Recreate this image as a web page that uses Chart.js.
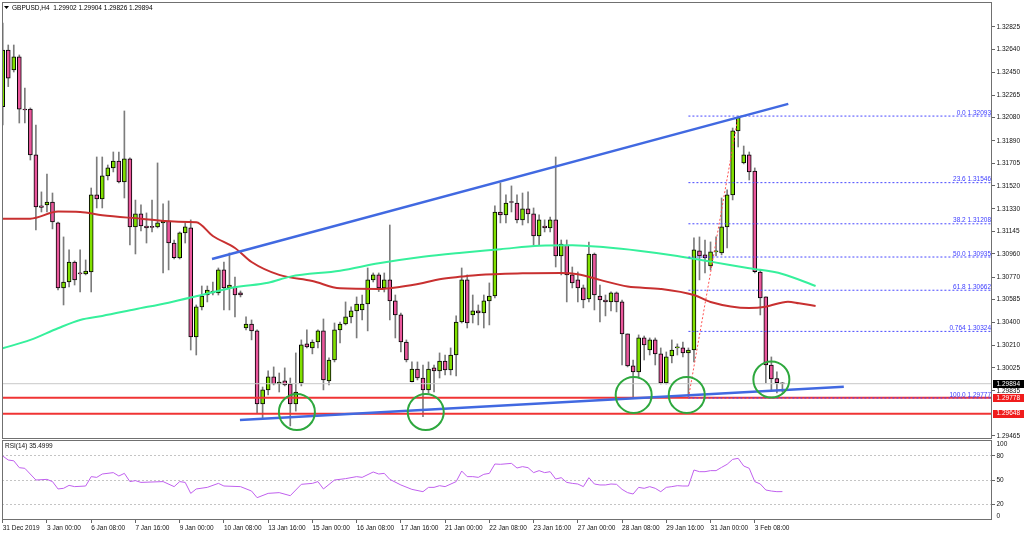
<!DOCTYPE html>
<html>
<head>
<meta charset="utf-8">
<script src="https://cdn.jsdelivr.net/npm/chart.js@4.4.1/dist/chart.umd.min.js"></script>
<style>
  html, body { margin: 0; padding: 0; background: #fff; width: 1024px; height: 535px; overflow: hidden; }
  canvas { position: absolute; left: 0; }
  #main { top: 0; }
  #rsi { top: 440px; }
</style>
</head>
<body>
<canvas id="main" width="1024" height="440"></canvas>
<canvas id="rsi" width="1024" height="95"></canvas>
<script>
// GBPUSD H4 candles, one per bar (index 0 = first visible bar)
const opens = [1.32170,1.32636,1.32472,1.32579,1.32151,1.32151,1.31774,1.31355,1.31363,1.31387,
  1.31215,1.30681,1.30730,1.30894,1.30804,1.30796,1.30812,1.31445,1.31412,1.31601,
  1.31667,1.31724,1.31552,1.31741,1.31182,1.31289,1.31190,1.31182,1.31182,1.31215,
  1.31231,1.31050,1.30927,1.31133,1.31174,1.30278,1.30525,1.30623,1.30640,1.30640,
  1.30829,1.30681,1.30689,1.30640,1.30352,1.30385,1.30328,1.29728,1.29843,1.29950,
  1.29892,1.29917,1.29892,1.29728,1.29900,1.30221,1.30188,1.30237,1.30328,1.29917,
  1.30089,1.30336,1.30385,1.30443,1.30492,1.30500,1.30549,1.30747,1.30788,1.30681,
  1.30747,1.30574,1.30459,1.30237,1.29911,1.30015,1.29941,1.29843,1.30024,1.29999,
  1.30081,1.30007,1.30130,1.30401,1.30747,1.30459,1.30492,1.30475,1.30574,1.30615,
  1.31305,1.31281,1.31387,1.31379,1.31240,1.31330,1.31289,1.31108,1.31190,1.31174,
  1.31240,1.30944,1.31034,1.30788,1.30747,1.30681,1.30590,1.30960,1.30615,1.30582,
  1.30566,1.30640,1.30566,1.30303,1.30040,1.29991,1.30270,1.30171,1.30254,1.30139,
  1.29900,1.30122,1.30188,1.30188,1.30147,1.30171,1.30985,1.30952,1.30862,1.30977,
  1.30968,1.31182,1.31445,1.31971,1.31708,1.31774,1.31642,1.30812,1.30607,1.30048,
  1.29936,1.29902];
const highs = [1.32858,1.32677,1.32677,1.32595,1.32324,1.32160,1.32020,1.31470,1.31617,1.31461,
  1.31223,1.31100,1.30993,1.30903,1.30993,1.30911,1.31502,1.31757,1.31757,1.31691,
  1.31798,1.31798,1.32135,1.31749,1.31403,1.31363,1.31297,1.31403,1.31708,1.31371,
  1.31396,1.31075,1.31141,1.31215,1.31240,1.30541,1.30697,1.30697,1.30730,1.30845,
  1.30894,1.30968,1.30771,1.30656,1.30443,1.30418,1.30336,1.29867,1.29999,1.30032,
  1.29982,1.30024,1.29941,1.30147,1.30254,1.30336,1.30254,1.30336,1.30426,1.30106,
  1.30393,1.30401,1.30566,1.30525,1.30607,1.30623,1.30845,1.30804,1.30804,1.30804,
  1.31198,1.30623,1.30475,1.30254,1.30073,1.30073,1.30048,1.30073,1.30048,1.30147,
  1.30130,1.30188,1.30451,1.30845,1.30788,1.30623,1.30541,1.30623,1.30722,1.31355,
  1.31544,1.31445,1.31519,1.31445,1.31461,1.31470,1.31338,1.31281,1.31240,1.31264,
  1.31757,1.31075,1.31075,1.30853,1.30812,1.30705,1.31058,1.30968,1.30705,1.30623,
  1.30648,1.30648,1.30582,1.30303,1.30089,1.30295,1.30286,1.30270,1.30270,1.30188,
  1.30155,1.30254,1.30221,1.30237,1.30188,1.31092,1.31100,1.31075,1.31059,1.31100,
  1.31420,1.31486,1.31995,1.32093,1.31847,1.31798,1.31667,1.30829,1.30607,1.30114,
  1.29991,1.29904];
const lows = [1.32020,1.32335,1.32455,1.32036,1.32036,1.31732,1.31157,1.31305,1.31305,1.31166,
  1.30664,1.30541,1.30689,1.30705,1.30648,1.30788,1.30648,1.31338,1.31338,1.31568,
  1.31634,1.31544,1.31420,1.31034,1.30960,1.31149,1.31050,1.31141,1.31174,1.30804,
  1.30829,1.30919,1.30919,1.31050,1.30171,1.30130,1.30500,1.30566,1.30623,1.30623,
  1.30500,1.30500,1.30443,1.30607,1.30336,1.30254,1.29654,1.29613,1.29802,1.29884,
  1.29826,1.29876,1.29547,1.29669,1.29876,1.30188,1.30139,1.30188,1.29843,1.29884,
  1.30073,1.30229,1.30377,1.30393,1.30270,1.30418,1.30328,1.30730,1.30651,1.30648,
  1.30418,1.30270,1.30155,1.30073,1.29908,1.29925,1.29623,1.29818,1.29826,1.29941,
  1.29966,1.29966,1.29958,1.30393,1.30352,1.30393,1.30377,1.30352,1.30377,1.30599,
  1.31215,1.31215,1.31305,1.31215,1.31198,1.31215,1.31034,1.31034,1.31141,1.31141,
  1.30853,1.30788,1.30566,1.30681,1.30566,1.30517,1.30566,1.30500,1.30401,1.30451,
  1.30492,1.30484,1.30048,1.30032,1.29785,1.29941,1.30089,1.30130,1.30048,1.29892,
  1.29892,1.30065,1.30130,1.30114,1.29777,1.30073,1.30747,1.30804,1.30829,1.30944,
  1.30952,1.31009,1.31404,1.31839,1.31700,1.31568,1.30804,1.30459,1.29900,1.29843,
  1.29818,1.29826];
const closes = [1.32636,1.32404,1.32579,1.32149,1.32143,1.31774,1.31346,1.31342,1.31387,1.31223,
  1.30681,1.30730,1.30894,1.30747,1.30796,1.30820,1.31445,1.31412,1.31601,1.31667,
  1.31724,1.31552,1.31741,1.31182,1.31289,1.31190,1.31174,1.31178,1.31215,1.31231,
  1.31050,1.30930,1.31133,1.31182,1.30278,1.30525,1.30615,1.30664,1.30656,1.30829,
  1.30681,1.30705,1.30623,1.30623,1.30385,1.30328,1.29728,1.29843,1.29950,1.29892,
  1.29908,1.29884,1.29728,1.29826,1.30213,1.30196,1.30237,1.30328,1.29925,1.30089,
  1.30336,1.30385,1.30443,1.30492,1.30549,1.30549,1.30747,1.30788,1.30681,1.30747,
  1.30574,1.30459,1.30237,1.30089,1.30015,1.29941,1.29843,1.30015,1.29999,1.30081,
  1.30007,1.30130,1.30401,1.30747,1.30393,1.30492,1.30475,1.30574,1.30615,1.31305,
  1.31281,1.31379,1.31383,1.31240,1.31330,1.31289,1.31108,1.31240,1.31174,1.31240,
  1.30944,1.31042,1.30788,1.30722,1.30681,1.30582,1.30960,1.30623,1.30582,1.30566,
  1.30640,1.30566,1.30303,1.30040,1.29991,1.30270,1.30213,1.30254,1.30139,1.29900,
  1.30114,1.30171,1.30192,1.30147,1.30171,1.30993,1.30944,1.30927,1.30977,1.30981,
  1.31182,1.31445,1.31971,1.32080,1.31774,1.31634,1.30815,1.30599,1.30048,1.29933,
  1.29902,1.29894];

// moving averages, read at these bar indices (shifted forward past the last bar)
const ma100At = [0,5,10,14,18,25,31,35,38,42,45,50,56,61,68,72,76,79,83,86,94,101,104,108,113,119,125,128,135,138,142,144,147];
const ma100 = [1.31250,1.31250,1.31308,1.31305,1.31278,1.31250,1.31226,1.31221,1.31108,1.31009,1.30894,1.30788,1.30738,
  1.30678,1.30673,1.30691,1.30722,1.30752,1.30774,1.30788,1.30801,1.30804,1.30793,1.30747,1.30692,1.30673,
  1.30623,1.30566,1.30516,1.30527,1.30568,1.30555,1.30533];
const ma200At = [0,5,10,14,18,24,30,36,42,48,52,61,68,76,83,90,97,103,109,115,122,128,135,141,147];
const ma200 = [1.30185,1.30254,1.30350,1.30418,1.30451,1.30506,1.30560,1.30623,1.30686,1.30724,1.30774,1.30823,
  1.30884,1.30938,1.30971,1.30999,1.31028,1.31032,1.31015,1.30987,1.30944,1.30897,1.30843,1.30796,1.30697];

// RSI(14)
const rsiAt = [0,1,2,3,4,6,8,9,10,11,12,13,15,16,17,18,20,21,22,23,24,25,29,31,32,33,34,35,37,39,40,43,45,46,48,50,
  52,54,56,57,58,60,62,64,65,67,68,69,70,72,74,76,77,78,79,80,82,83,84,85,86,87,88,89,90,92,93,94,95,96,97,98,99,
  100,101,102,103,104,105,106,107,108,109,110,111,112,113,114,115,116,117,118,119,120,121,122,123,124,125,126,127,
  128,129,130,131,132,133,134,135,136,137,138,139,140,141];
const rsiVal = [80,75,74,65.4,64.6,50,50.8,48,38.8,39.6,43.3,41.7,42.5,54.2,53.3,57.5,59.2,55,58.3,48,49.2,47,48,41.7,
  48,47,33.3,38.8,40.8,45.8,42.5,41.7,36.2,27.9,33.3,34.2,30.4,44.6,45.8,48,38.8,50,51.7,54.2,53.3,60,57.5,58.3,50.8,
  43.8,38.3,35.4,40.8,40.8,42.9,41.7,48,61.2,54.2,54.2,53.3,57.1,58.3,70,69.6,70.8,65,66.7,65.4,59.2,61.7,59.2,60.4,
  51.2,52.9,47,45.8,45,41.7,52.9,45,43.8,43.8,45,44.6,38.3,34.2,32.5,40.8,39.6,41.7,39.6,35.4,40.8,41.7,42.9,42.5,42.5,
  62.5,60.4,60.4,61.7,61.7,65.8,69.6,75.8,77.1,67.5,64.6,48,45,37.5,36.2,35.4,35.5];
const rsiLevels = [100, 80, 50, 20, 0];

// axis labels
const priceTicks = [1.32825,1.32640,1.32450,1.32265,1.32080,1.31890,1.31705,1.31520,1.31330,1.31145,1.30960,
  1.30770,1.30585,1.30400,1.30210,1.30025,1.29835,1.29465];
const dateAt = [0,8,16,24,32,40,48,56,64,72,80,88,96,104,112,120,128,136];
const dateLabels = ['31 Dec 2019','3 Jan 00:00','6 Jan 08:00','7 Jan 16:00','9 Jan 00:00','10 Jan 08:00',
  '13 Jan 16:00','15 Jan 00:00','16 Jan 08:00','17 Jan 16:00','21 Jan 00:00','22 Jan 08:00','23 Jan 16:00',
  '27 Jan 00:00','28 Jan 08:00','29 Jan 16:00','31 Jan 00:00','3 Feb 08:00'];

// drawings on the price chart
const fibLevels = ['0.0','23.6','38.2','50.0','61.8','0.764','100.0'];
const fibPrices = [1.32093,1.31546,1.31208,1.30935,1.30662,1.30324,1.29777];
const fibFrom = 124;
const swingX = [124, 133];
const swingY = [1.29777, 1.32093];
const upperLineX = [37.85, 142.06];
const upperLineY = [1.30919, 1.32193];
const lowerLineX = [42.9, 152.1];
const lowerLineY = [1.29596, 1.29870];
const redLevels = [1.29778, 1.29648];
const lastPrice = 1.29894;
const circleX = [53.2, 76.5, 114.1, 123.7, 139.0];
const circleY = [1.29662, 1.29662, 1.29802, 1.29802, 1.29929];
const header = 'GBPUSD,H4  1.29902 1.29904 1.29826 1.29894';

const xMin = -0.13, xMax = 178.9;
const yMin = 1.29448, yMax = 1.33022;
const FONT = "'Liberation Sans', Arial, sans-serif";
const BULL = '#80e000', BEAR = '#ea579c';
const BLUE = '#4169e1', RED = '#f03434';

const pts = (xs, ys) => xs.map((x, k) => ({x: x, y: ys[k]}));
const flat = (y, from) => [{x: from, y: y}, {x: xMax, y: y}];

function lineSet(data, color, width, order, extra) {
  return Object.assign({
    type: 'line', data: data, borderColor: color, borderWidth: width,
    pointRadius: 0, fill: false, order: order
  }, extra || {});
}

const datasets = [
  {
    type: 'bar', order: 20, grouped: false, barThickness: 1,
    data: highs.map((h, i) => ({x: i, y: [lows[i], h]})),
    backgroundColor: '#7c7c7c'
  },
  {
    type: 'bar', order: 10, grouped: false, barThickness: 4, minBarLength: 1,
    data: opens.map((o, i) => ({x: i, y: [o, closes[i]]})),
    backgroundColor: opens.map((o, i) => closes[i] > o ? BULL : BEAR),
    borderColor: '#000', borderWidth: 1, borderSkipped: false
  },
  lineSet(flat(lastPrice, xMin), '#c8c8c8', 1, 9),
  lineSet(flat(redLevels[0], xMin), RED, 2, 8),
  lineSet(flat(redLevels[1], xMin), RED, 2, 8),
  lineSet(pts(ma200At, ma200), '#36f09c', 2, 6, {cubicInterpolationMode: 'monotone'}),
  lineSet(pts(ma100At, ma100), '#c83030', 2, 6, {cubicInterpolationMode: 'monotone'}),
  lineSet(pts(swingX, swingY), '#ff5050', 1, 5, {borderDash: [2, 2]}),
  lineSet(pts(upperLineX, upperLineY), BLUE, 2.5, 3),
  lineSet(pts(lowerLineX, lowerLineY), BLUE, 2.5, 3),
  lineSet(pts(circleX, circleY), '#2ea83e', 0, 1, {
    showLine: false, pointRadius: 18, pointBorderWidth: 2,
    pointBorderColor: '#2ea83e', pointBackgroundColor: 'rgba(0,0,0,0)'
  })
];
fibPrices.forEach(p => datasets.push(lineSet(flat(p, fibFrom), '#4848ff', 1, 4, {borderDash: [2, 2]})));

const mainDeco = {
  id: 'mainDeco',
  afterDraw(chart) {
    const ctx = chart.ctx, ca = chart.chartArea, ys = chart.scales.y;
    ctx.save();
    ctx.strokeStyle = '#707070';
    ctx.lineWidth = 1;
    ctx.strokeRect(ca.left + 0.5, ca.top - 0.5, ca.right - ca.left - 1, ca.bottom - ca.top + 1);

    // symbol line
    ctx.fillStyle = '#000';
    ctx.beginPath();
    ctx.moveTo(ca.left + 2, ca.top + 3);
    ctx.lineTo(ca.left + 7, ca.top + 3);
    ctx.lineTo(ca.left + 4.5, ca.top + 6);
    ctx.closePath();
    ctx.fill();
    ctx.font = '6.5px ' + FONT;
    ctx.textBaseline = 'middle';
    ctx.textAlign = 'left';
    ctx.fillText(header, ca.left + 10, ca.top + 5);

    // fibonacci captions
    ctx.fillStyle = '#3c3cff';
    ctx.textAlign = 'right';
    ctx.textBaseline = 'bottom';
    fibPrices.forEach((p, k) => {
      ctx.fillText(fibLevels[k] + ' ' + p.toFixed(5), ca.right - 1, ys.getPixelForValue(p));
    });

    // price tags on the axis
    const tags = [lastPrice, redLevels[0], redLevels[1]];
    const tagColors = ['#000', '#f01c1c', '#f01c1c'];
    ctx.textAlign = 'left';
    ctx.textBaseline = 'middle';
    tags.forEach((p, k) => {
      const y = ys.getPixelForValue(p);
      ctx.fillStyle = tagColors[k];
      ctx.fillRect(ca.right + 1, Math.round(y) - 4, chart.width - ca.right - 1, 8);
      ctx.fillStyle = '#fff';
      ctx.fillText(p.toFixed(5), ca.right + 4.5, y);
    });
    ctx.restore();
  }
};

new Chart(document.getElementById('main'), {
  type: 'bar',
  data: {datasets: datasets},
  options: {
    responsive: false, animation: false, events: [],
    layout: {autoPadding: false, padding: {left: 2, top: 3, right: 0, bottom: 2}},
    plugins: {legend: {display: false}, tooltip: {enabled: false}},
    scales: {
      x: {type: 'linear', min: xMin, max: xMax, offset: false, display: false},
      y: {
        position: 'right', min: yMin, max: yMax,
        afterBuildTicks: s => { s.ticks = priceTicks.map(v => ({value: v})); },
        afterFit: s => { s.width = 32; s.paddingTop = 0; s.paddingBottom = 0; },
        ticks: {autoSkip: false, padding: 1.5, color: '#111', font: {family: FONT, size: 6.5},
          callback: v => v.toFixed(5)},
        grid: {drawOnChartArea: false, tickLength: 3, color: '#666'},
        border: {display: false}
      }
    }
  },
  plugins: [mainDeco]
});

const rsiDeco = {
  id: 'rsiDeco',
  afterDraw(chart) {
    const ctx = chart.ctx, ca = chart.chartArea, ys = chart.scales.y;
    ctx.save();
    ctx.strokeStyle = '#707070';
    ctx.lineWidth = 1;
    ctx.strokeRect(ca.left + 0.5, ca.top + 0.5, ca.right - ca.left - 1, ca.bottom - ca.top - 1);
    ctx.fillStyle = '#111';
    ctx.font = '6.5px ' + FONT;
    ctx.textAlign = 'left';
    ctx.textBaseline = 'middle';
    ctx.fillText('RSI(14) 35.4999', ca.left + 3, ca.top + 6);
    rsiLevels.forEach(v => {
      let y = ys.getPixelForValue(v);
      if (v === 100) y += 4;
      if (v === 0) y -= 4;
      ctx.fillText(String(v), ca.right + 4.5, y);
    });
    ctx.restore();
  }
};

const levelColor = c => [20, 50, 80].includes(c.tick.value) ? '#c4c4c4' : 'rgba(0,0,0,0)';

new Chart(document.getElementById('rsi'), {
  type: 'line',
  data: {datasets: [{
    data: pts(rsiAt, rsiVal), borderColor: '#c060ee', borderWidth: 1, pointRadius: 0, fill: false
  }]},
  options: {
    responsive: false, animation: false, events: [],
    layout: {autoPadding: false, padding: {left: 2, top: 0, right: 0, bottom: 0}},
    plugins: {legend: {display: false}, tooltip: {enabled: false}},
    scales: {
      x: {
        type: 'linear', min: xMin, max: xMax, offset: false,
        afterBuildTicks: s => { s.ticks = dateAt.map(v => ({value: v})); },
        afterFit: s => { s.height = 15; s.paddingLeft = 0; s.paddingRight = 0; },
        ticks: {autoSkip: false, maxRotation: 0, align: 'start', padding: 1, color: '#111',
          font: {family: FONT, size: 6.5},
          callback: v => dateLabels[dateAt.indexOf(v)]},
        grid: {drawOnChartArea: false, tickLength: 3, color: '#666'},
        border: {display: false}
      },
      y: {
        position: 'right', min: 0, max: 100,
        afterBuildTicks: s => { s.ticks = rsiLevels.map(v => ({value: v})); },
        afterFit: s => { s.width = 32; s.paddingTop = 0; s.paddingBottom = 0; },
        ticks: {display: false},
        grid: {color: levelColor, tickColor: c => [20, 50, 80].includes(c.tick.value) ? '#666' : 'rgba(0,0,0,0)',
          tickLength: 3},
        border: {display: false, dash: [2, 2]}
      }
    }
  },
  plugins: [rsiDeco]
});
</script>
</body>
</html>
